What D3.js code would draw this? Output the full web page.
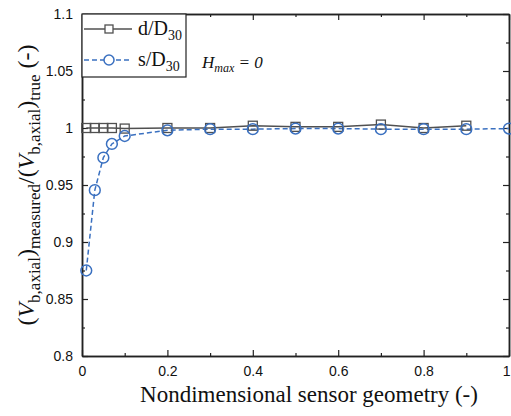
<!DOCTYPE html>
<html><head><meta charset="utf-8">
<script src="https://cdn.jsdelivr.net/npm/d3@7"></script>
<style>body{margin:0;background:#fff}svg{display:block}</style>
</head><body>
<script>
const dX = [0.01,0.03,0.05,0.07,0.1,0.2,0.3,0.4,0.5,0.6,0.7,0.8,0.9];
const dY = [1.0,1.0,1.0,1.0,0.9995,1.0,1.0,1.002,1.001,1.001,1.003,1.0,1.002];
const sX = [0.01,0.03,0.05,0.07,0.1,0.2,0.3,0.4,0.5,0.6,0.7,0.8,0.9,1.0];
const sY = [0.875,0.9455,0.974,0.986,0.993,0.998,0.999,0.999,0.9995,0.9995,0.999,0.999,0.999,0.9995];
const xTicks = [0,0.2,0.4,0.6,0.8,1];
const yTicks = [0.8,0.85,0.9,0.95,1,1.05,1.1];

const W=511,H=416;
const m={l:82,r:2,t:14,b:60};
const SERIF="'Liberation Serif','Times New Roman',serif";
const SANS="'Liberation Sans',Arial,sans-serif";
const svg=d3.select("body").append("svg").attr("width",W).attr("height",H);
const x=d3.scaleLinear().domain([0,1]).range([m.l,W-m.r]);
const y=d3.scaleLinear().domain([0.8,1.1]).range([H-m.b,m.t]);
const gray="#505050", blue="#3a70c0";

const fmt=d=>String(d);
const xMinor=d3.range(0.1,1,0.2);
const yMinor=d3.range(0.825,1.1,0.05);
function axisG(axis,tr){return svg.append("g").attr("transform",tr).call(axis);}
const gx=axisG(d3.axisBottom(x).tickValues(xTicks).tickFormat(fmt).tickSizeInner(-6).tickSizeOuter(0).tickPadding(9),`translate(0,${H-m.b})`);
axisG(d3.axisBottom(x).tickValues(xMinor).tickFormat("").tickSizeInner(-3).tickSizeOuter(0),`translate(0,${H-m.b})`);
axisG(d3.axisTop(x).tickValues(xTicks).tickFormat("").tickSizeInner(-6).tickSizeOuter(0),`translate(0,${m.t})`);
axisG(d3.axisTop(x).tickValues(xMinor).tickFormat("").tickSizeInner(-3).tickSizeOuter(0),`translate(0,${m.t})`);
const gy=axisG(d3.axisLeft(y).tickValues(yTicks).tickFormat(fmt).tickSizeInner(-6).tickSizeOuter(0).tickPadding(9),`translate(${m.l},0)`);
axisG(d3.axisLeft(y).tickValues(yMinor).tickFormat("").tickSizeInner(-3).tickSizeOuter(0),`translate(${m.l},0)`);
axisG(d3.axisRight(y).tickValues(yTicks).tickFormat("").tickSizeInner(-6).tickSizeOuter(0),`translate(${W-m.r},0)`);
axisG(d3.axisRight(y).tickValues(yMinor).tickFormat("").tickSizeInner(-3).tickSizeOuter(0),`translate(${W-m.r},0)`);
svg.selectAll(".domain").attr("stroke","#222").attr("stroke-width",1.5);
svg.selectAll(".tick line").attr("stroke","#222").attr("stroke-width",1.2);
svg.selectAll(".tick text").attr("font-family",SANS).attr("font-size",14).attr("fill","#111");
gx.selectAll(".tick text").attr("dy","0.75em");
gx.selectAll(".tick").filter(d=>d===1).select("text").attr("text-anchor","end").attr("dx","1");

const line=d3.line().x(d=>x(d[0])).y(d=>y(d[1]));
const dData=dX.map((v,i)=>[v,dY[i]]);
const sData=sX.map((v,i)=>[v,sY[i]]);
svg.append("path").datum(dData).attr("d",line).attr("fill","none").attr("stroke",gray).attr("stroke-width",1.5);
svg.append("path").datum(sData).attr("d",line).attr("fill","none").attr("stroke",blue).attr("stroke-width",1.5).attr("stroke-dasharray","5,3");
svg.append("g").selectAll("rect").data(dData).join("rect")
 .attr("x",d=>x(d[0])-4.5).attr("y",d=>y(d[1])-4.5).attr("width",9).attr("height",9)
 .attr("fill","none").attr("stroke",gray).attr("stroke-width",1.3);
svg.append("g").selectAll("circle").data(sData).join("circle")
 .attr("cx",d=>x(d[0])).attr("cy",d=>y(d[1])).attr("r",5.4)
 .attr("fill","none").attr("stroke",blue).attr("stroke-width",1.5);

const lg=svg.append("g");
lg.append("rect").attr("x",m.l).attr("y",m.t).attr("width",104).attr("height",63).attr("fill","#fff").attr("stroke","#222").attr("stroke-width",1.2);
lg.append("line").attr("x1",84).attr("x2",132).attr("y1",29).attr("y2",29).attr("stroke",gray).attr("stroke-width",1.5);
lg.append("rect").attr("x",105).attr("y",25).attr("width",8).attr("height",8).attr("fill","#fff").attr("stroke",gray).attr("stroke-width",1.3);
lg.append("line").attr("x1",84).attr("x2",132).attr("y1",60).attr("y2",60).attr("stroke",blue).attr("stroke-width",1.5).attr("stroke-dasharray","5,3");
lg.append("circle").attr("cx",109).attr("cy",60).attr("r",5).attr("fill","#fff").attr("stroke",blue).attr("stroke-width",1.5);
const t1=lg.append("text").attr("x",138).attr("y",35).attr("font-family",SERIF).attr("font-size",20).attr("fill","#111");
t1.append("tspan").text("d/D");t1.append("tspan").text("30").attr("font-size",14).attr("dy",5);
const t2=lg.append("text").attr("x",138).attr("y",66).attr("font-family",SERIF).attr("font-size",20).attr("fill","#111");
t2.append("tspan").text("s/D");t2.append("tspan").text("30").attr("font-size",14).attr("dy",5);

const an=svg.append("text").attr("x",202).attr("y",68).attr("font-family",SERIF).attr("font-size",17).attr("font-style","italic").attr("fill","#111");
an.append("tspan").text("H");an.append("tspan").text("max").attr("font-size",12).attr("dy",4);
an.append("tspan").text(" = 0").attr("dy",-4);

svg.append("text").attr("x",309).attr("y",402).attr("text-anchor","middle")
 .attr("font-family",SERIF).attr("font-size",23).attr("fill","#111")
 .text("Nondimensional sensor geometry (-)");

const yl=svg.append("text").attr("transform",`translate(34,${(m.t+H-m.b)/2}) rotate(-90)`).attr("text-anchor","middle")
 .attr("font-family",SERIF).attr("font-size",24).attr("fill","#111");
yl.append("tspan").text("(");
yl.append("tspan").text("V").attr("font-style","italic");
yl.append("tspan").text("b,axial").attr("font-size",17).attr("dy",6);
yl.append("tspan").text(")").attr("dy",-6);
yl.append("tspan").text("measured").attr("font-size",17).attr("dy",6);
yl.append("tspan").text("/(").attr("dy",-6);
yl.append("tspan").text("V").attr("font-style","italic");
yl.append("tspan").text("b,axial").attr("font-size",17).attr("dy",6);
yl.append("tspan").text(")").attr("dy",-6);
yl.append("tspan").text("true").attr("font-size",17).attr("dy",6);
yl.append("tspan").text(" (-)").attr("dy",-6);
</script>
</body></html>
